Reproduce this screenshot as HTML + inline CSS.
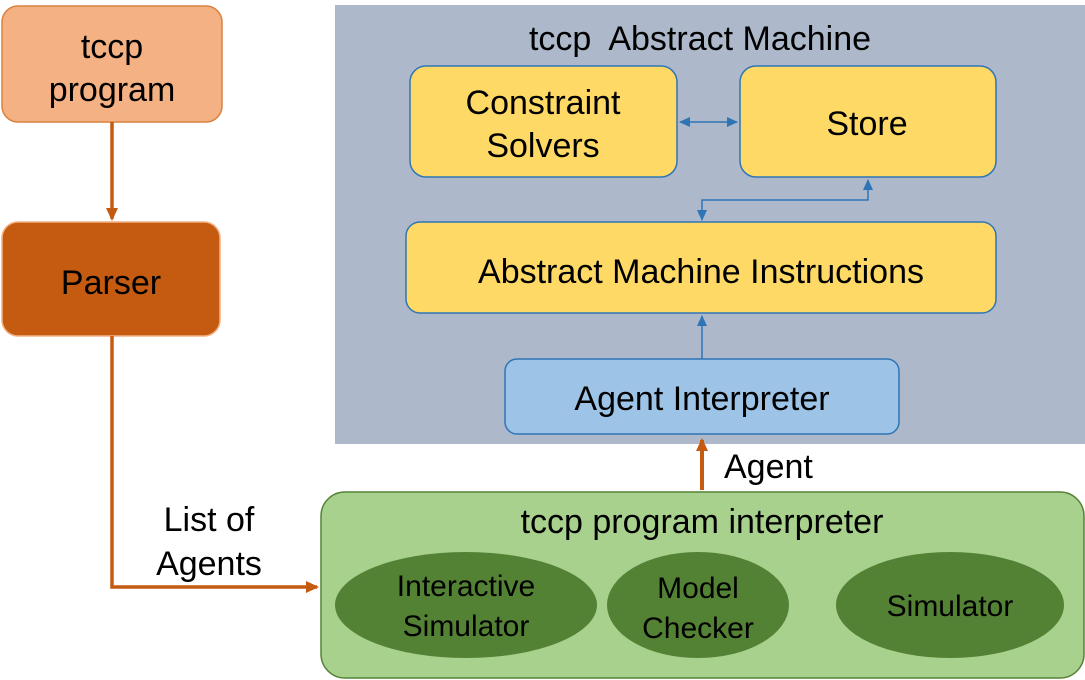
<!DOCTYPE html>
<html><head><meta charset="utf-8"><style>body{margin:0;background:#fff}svg{display:block}text{font-family:"Liberation Sans",sans-serif;fill:#000}</style></head>
<body>
<svg width="1085" height="680" viewBox="0 0 1085 680" xmlns="http://www.w3.org/2000/svg">
<defs>
<marker id="ao" markerWidth="16" markerHeight="16" refX="11" refY="8" orient="auto" markerUnits="userSpaceOnUse"><path d="M0,2 L13,8 L0,14 z" fill="#C55A11"/></marker>
<marker id="ab" markerWidth="12" markerHeight="12" refX="10" refY="6" orient="auto-start-reverse" markerUnits="userSpaceOnUse"><path d="M0,1 L11,6 L0,11 z" fill="#2E75B6"/></marker>
</defs>
<rect x="2" y="6" width="220" height="116" rx="16" fill="#F4B183" stroke="#D9823F" stroke-width="1.5"/>
<text x="112" y="58" font-size="34" text-anchor="middle">tccp</text>
<text x="112" y="101" font-size="34" text-anchor="middle">program</text>
<line x1="112" y1="122" x2="112" y2="219" stroke="#C55A11" stroke-width="3.5" marker-end="url(#ao)"/>
<rect x="2" y="222" width="218" height="114" rx="16" fill="#C55A11" stroke="#F4B183" stroke-width="1.5"/>
<text x="111" y="294" font-size="34" text-anchor="middle">Parser</text>
<polyline points="112,336 112,587 317,587" fill="none" stroke="#C55A11" stroke-width="3.5" marker-end="url(#ao)"/>
<text x="209" y="531" font-size="34" text-anchor="middle">List of</text>
<text x="209" y="575" font-size="34" text-anchor="middle">Agents</text>
<rect x="335" y="5" width="750" height="439" fill="#ADB9CA"/>
<text x="700" y="50" font-size="34" text-anchor="middle" xml:space="preserve">tccp  Abstract Machine</text>
<rect x="410" y="66" width="267" height="111" rx="16" fill="#FFD966" stroke="#2E75B6" stroke-width="1.5"/>
<text x="543" y="114" font-size="34" text-anchor="middle">Constraint</text>
<text x="543" y="157" font-size="34" text-anchor="middle">Solvers</text>
<rect x="740" y="66" width="256" height="111" rx="16" fill="#FFD966" stroke="#2E75B6" stroke-width="1.5"/>
<text x="867" y="135" font-size="34" text-anchor="middle">Store</text>
<line x1="680" y1="122" x2="737" y2="122" stroke="#2E75B6" stroke-width="1.5" marker-start="url(#ab)" marker-end="url(#ab)"/>
<polyline points="702,220 702,200 868,200 868,180" fill="none" stroke="#2E75B6" stroke-width="1.5" marker-start="url(#ab)" marker-end="url(#ab)"/>
<rect x="406" y="222" width="590" height="91" rx="14" fill="#FFD966" stroke="#2E75B6" stroke-width="1.5"/>
<text x="701" y="283" font-size="34" text-anchor="middle">Abstract Machine Instructions</text>
<line x1="702" y1="359" x2="702" y2="316" stroke="#2E75B6" stroke-width="1.5" marker-end="url(#ab)"/>
<rect x="505" y="359" width="394" height="75" rx="12" fill="#9DC3E6" stroke="#2E75B6" stroke-width="1.5"/>
<text x="702" y="410" font-size="34" text-anchor="middle">Agent Interpreter</text>
<line x1="702" y1="490" x2="702" y2="440" stroke="#C55A11" stroke-width="4" marker-end="url(#ao)"/>
<text x="724" y="478" font-size="34">Agent</text>
<rect x="321" y="492" width="763" height="186" rx="24" fill="#A9D18E" stroke="#548235" stroke-width="1.5"/>
<text x="702" y="533" font-size="34" text-anchor="middle">tccp program interpreter</text>
<ellipse cx="466" cy="605" rx="131" ry="53" fill="#548235"/>
<text x="466" y="596" font-size="30" text-anchor="middle">Interactive</text>
<text x="466" y="636" font-size="30" text-anchor="middle">Simulator</text>
<ellipse cx="698" cy="605" rx="91" ry="53" fill="#548235"/>
<text x="698" y="598" font-size="30" text-anchor="middle">Model</text>
<text x="698" y="638" font-size="30" text-anchor="middle">Checker</text>
<ellipse cx="950" cy="605" rx="114" ry="53" fill="#548235"/>
<text x="950" y="616" font-size="30" text-anchor="middle">Simulator</text>
</svg>
</body></html>
